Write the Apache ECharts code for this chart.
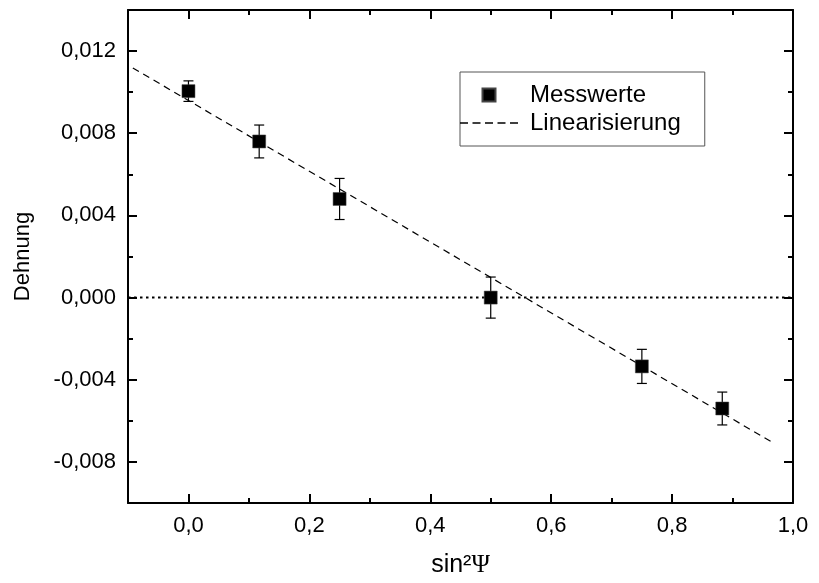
<!DOCTYPE html>
<html><head><meta charset="utf-8">
<script src="https://cdn.jsdelivr.net/npm/echarts@6/dist/echarts.min.js"></script>
<style>html,body{margin:0;padding:0;background:#fff}#c{width:819px;height:583px}</style>
</head><body><div id="c"></div>
<script>
// ---- data ----
const xVals = [0, 0.117, 0.25, 0.5, 0.75, 0.883];
const yVals = [0.01005, 0.0076, 0.0048, 0.0000, -0.00335, -0.0054];
const errVals = [0.0005, 0.0008, 0.001, 0.001, 0.00083, 0.0008];
const linX = [-0.092, 0.97];
const linY = [0.01118, -0.00712];
const zeroX = [-0.1, 1.0];
const zeroY = [0, 0];
const xMajorTicks = [0, 0.2, 0.4, 0.6, 0.8, 1.0];
const yMajorTicks = [-0.008, -0.004, 0, 0.004, 0.008, 0.012];
const seriesNames = ['Messwerte', 'Linearisierung'];

const FONT = 'Liberation Sans, Arial, sans-serif';
const chart = echarts.init(document.getElementById('c'), null, {renderer: 'canvas'});
const fmt = (v, d) => (v < 0 ? '-' : '') + Math.abs(v).toFixed(d).replace('.', ',');

function majorX(pos, labels) {
  return {
    type: 'value', position: pos, min: -0.1, max: 1.0,
    axisLine: {show: true, onZero: false, lineStyle: {color: '#000', width: 2}},
    axisTick: {show: true, inside: true, length: 9, customValues: xMajorTicks, lineStyle: {color: '#000', width: 2}},
    axisLabel: labels ? {show: true, customValues: xMajorTicks, formatter: v => fmt(v, 1), fontSize: 22, fontFamily: FONT, color: '#000', margin: 12}
                      : {show: false},
    splitLine: {show: false}
  };
}
function minorX(pos) {
  return {
    type: 'value', position: pos, min: -0.1, max: 1.0, interval: 0.1,
    axisLine: {show: false, onZero: false},
    axisTick: {show: true, inside: true, length: 5, lineStyle: {color: '#000', width: 2}},
    axisLabel: {show: false}, splitLine: {show: false}
  };
}
function majorY(pos, labels) {
  return {
    type: 'value', position: pos, min: -0.010, max: 0.014,
    axisLine: {show: true, onZero: false, lineStyle: {color: '#000', width: 2}},
    axisTick: {show: true, inside: true, length: 9, customValues: yMajorTicks, lineStyle: {color: '#000', width: 2}},
    axisLabel: labels ? {show: true, customValues: yMajorTicks, formatter: v => fmt(v, 3), fontSize: 22, fontFamily: FONT, color: '#000', margin: 12}
                      : {show: false},
    splitLine: {show: false}
  };
}
function minorY(pos) {
  return {
    type: 'value', position: pos, min: -0.010, max: 0.014, interval: 0.002,
    axisLine: {show: false, onZero: false},
    axisTick: {show: true, inside: true, length: 5, lineStyle: {color: '#000', width: 2}},
    axisLabel: {show: false}, splitLine: {show: false}
  };
}

const xAxes = [majorX('bottom', true), minorX('bottom'), majorX('top', false), minorX('top')];
Object.assign(xAxes[0], {
  name: '{a|sin²}{b|Ψ}', nameLocation: 'middle', nameGap: 50,
  nameTextStyle: {rich: {a: {fontSize: 25, fontFamily: FONT, color: '#000'}, b: {fontSize: 25, fontFamily: 'Liberation Serif, Times New Roman, serif', color: '#000'}}}
});
const yAxes = [majorY('left', true), minorY('left'), majorY('right', false), minorY('right')];
Object.assign(yAxes[0], {
  name: 'Dehnung', nameLocation: 'middle', nameGap: 94,
  nameTextStyle: {fontSize: 22, fontFamily: FONT, color: '#000'}
});

const pts = xVals.map((x, i) => [x, yVals[i]]);
const errData = xVals.map((x, i) => [x, yVals[i] - errVals[i], yVals[i] + errVals[i]]);

const dashIcon = 'path://M0,0 h8 v1.3 h-8 z M12.5,0 h8 v1.3 h-8 z M25,0 h8 v1.3 h-8 z M37.5,0 h8 v1.3 h-8 z M50,0 h8 v1.3 h-8 z';

chart.setOption({
  animation: false,
  backgroundColor: '#fff',
  grid: {left: 128, right: 26, top: 10, bottom: 79, containLabel: false},
  xAxis: xAxes,
  yAxis: yAxes,
  legend: {
    data: [
      {name: seriesNames[0], icon: 'path://M0,0 L10,0 L10,10 L0,10 Z'},
      {name: seriesNames[1], icon: dashIcon}
    ],
    orient: 'vertical', left: 460, top: 72,
    itemWidth: 58, itemHeight: 13, itemGap: 4,
    symbolKeepAspect: true,
    padding: [11, 24, 11, 0],
    borderColor: '#555', borderWidth: 1,
    textStyle: {fontSize: 24, fontFamily: FONT, color: '#000', padding: [0, 0, 0, 7]},
    selectedMode: false
  },
  series: [
    {
      name: 'zero', type: 'line', data: zeroX.map((x, i) => [x, zeroY[i]]),
      symbol: 'none', silent: true, z: 1,
      lineStyle: {color: '#000', width: 2, type: [2.5, 3.5]}
    },
    {
      name: seriesNames[1], type: 'line', data: linX.map((x, i) => [x, linY[i]]),
      symbol: 'none', z: 2, itemStyle: {color: '#000'},
      lineStyle: {color: '#000', width: 1.2, type: [7, 5]}
    },
    {
      name: 'err', type: 'custom', z: 3, data: errData,
      renderItem: function (params, api) {
        const x = api.value(0);
        const lo = api.coord([x, api.value(1)]);
        const hi = api.coord([x, api.value(2)]);
        const w = 5;
        const st = {stroke: '#000', lineWidth: 1.2};
        return {type: 'group', children: [
          {type: 'line', shape: {x1: lo[0], y1: lo[1], x2: hi[0], y2: hi[1]}, style: st},
          {type: 'line', shape: {x1: lo[0] - w, y1: lo[1], x2: lo[0] + w, y2: lo[1]}, style: st},
          {type: 'line', shape: {x1: hi[0] - w, y1: hi[1], x2: hi[0] + w, y2: hi[1]}, style: st}
        ]};
      }
    },
    {
      name: seriesNames[0], type: 'scatter', data: pts, z: 4,
      symbol: 'rect', symbolSize: 13,
      itemStyle: {color: '#000', borderColor: '#444', borderWidth: 0.5, opacity: 1}
    }
  ]
});
</script></body></html>
